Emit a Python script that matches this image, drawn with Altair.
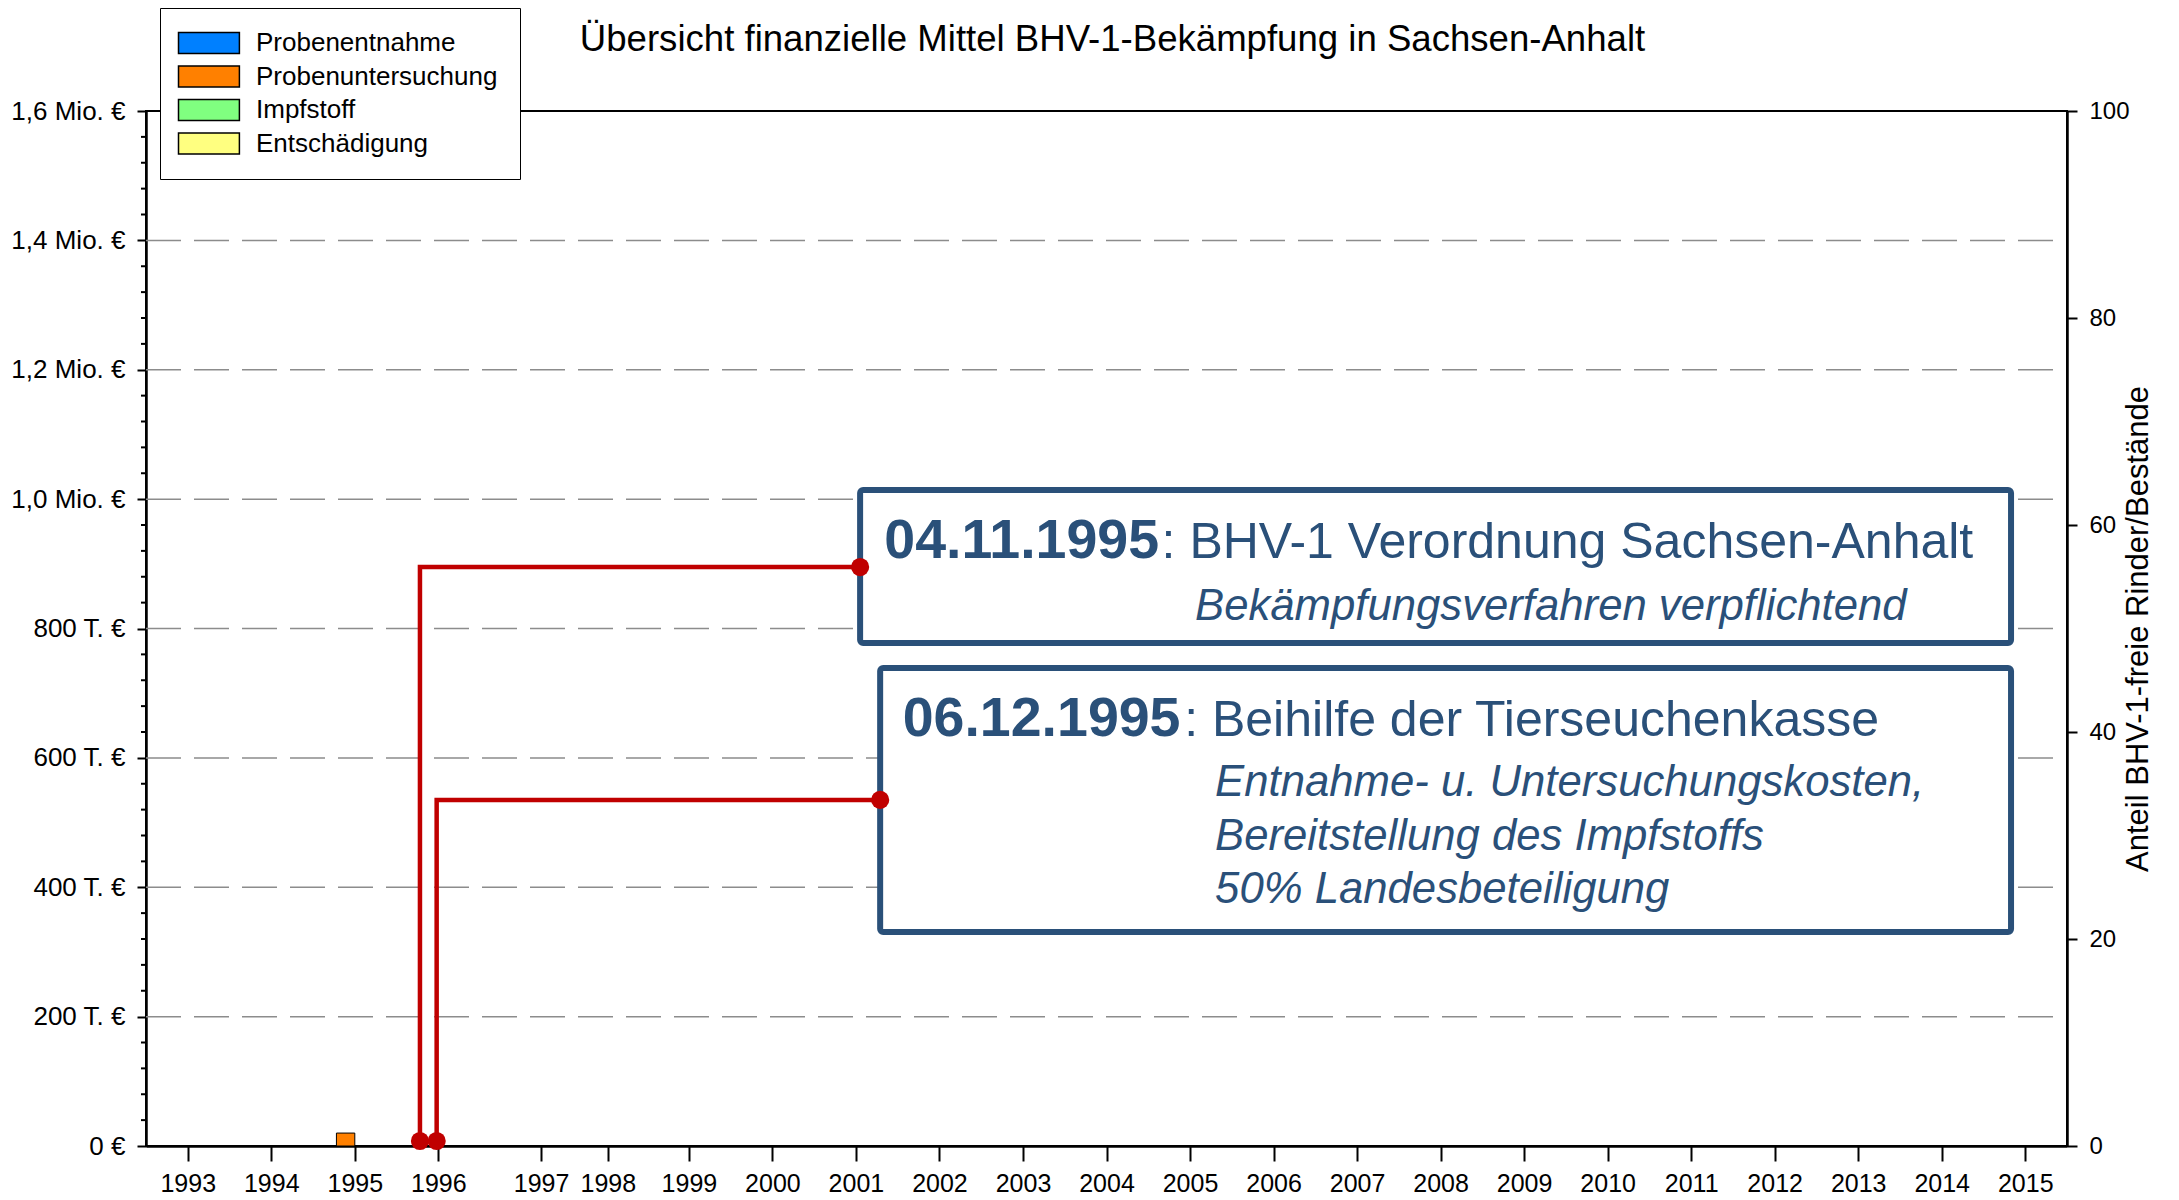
import altair as alt
import pandas as pd

# ---------------- data ----------------
categories = ["Probenentnahme", "Probenuntersuchung", "Impfstoff", "Entschädigung"]
cat_colors = ["#0080FF", "#FF8000", "#80FF80", "#FFFF80"]
bar_years = [1995, 1995, 1995, 1995]
bar_values = [0, 20000, 0, 0]
bar_span = 0.22  # bar drawn just before the year tick

# x tick positions as they appear on the axis (1997 / 1998 are shifted in the original)
tick_years = [1993, 1994, 1995, 1996, 1997.23, 1998.03] + list(range(1999, 2016))

y_major = [0, 200000, 400000, 600000, 800000, 1000000, 1200000, 1400000, 1600000]
y_minor = [v for v in range(0, 1600001, 40000) if v % 200000 != 0]
grid_values = [200000, 400000, 600000, 800000, 1000000, 1200000, 1400000]
right_ticks = [0, 20, 40, 60, 80, 100]

# events (connector lines + boxes)
event_x = [1995.78, 1995.98]
event_level = [895000, 535000]
dot_base = 7700
box_x0 = [2001.05, 2001.29]
box_x1 = [2014.83, 2014.83]
box_top = [1014000, 739000]
box_bottom = [777600, 330800]

bold_text = ["04.11.1995", "06.12.1995"]
bold_x = [2001.34, 2001.56]
bold_y = [909000, 633800]
reg_text = [": BHV-1 Verordnung Sachsen-Anhalt", ": Beihilfe der Tierseuchenkasse"]
reg_x = [2004.66, 2004.93]
ital_text = ["Bekämpfungsverfahren verpflichtend",
             "Entnahme- u. Untersuchungskosten,",
             "Bereitstellung des Impfstoffs",
             "50% Landesbeteiligung"]
ital_x = [2005.06, 2005.30, 2005.30, 2005.30]
ital_y = [813100, 541000, 457600, 375600]

TITLE = "Übersicht finanzielle Mittel BHV-1-Bekämpfung in Sachsen-Anhalt"
RIGHT_TITLE = "Anteil BHV-1-freie Rinder/Bestände"

BLUE = "#2A5079"
RED = "#C00000"
FONT = "Liberation Sans"
PLOT_W = 1921
PLOT_H = 1035

# ---------------- tables ----------------
df_bars = pd.DataFrame({"year": bar_years, "cat": categories, "value": bar_values,
                        "order": list(range(len(categories)))})
df_grid = pd.DataFrame({"v": grid_values})
df_minor = pd.DataFrame({"v": y_minor})
df_boxes = pd.DataFrame({"bx0": box_x0, "bx1": box_x1, "btop": box_top, "bbot": box_bottom})
line_rows = []
for i in range(len(event_x)):
    line_rows += [
        {"ev": i, "o": 0, "x": event_x[i], "y": dot_base},
        {"ev": i, "o": 1, "x": event_x[i], "y": event_level[i]},
        {"ev": i, "o": 2, "x": box_x0[i], "y": event_level[i]},
    ]
df_lines = pd.DataFrame(line_rows)
dot_rows = []
for i in range(len(event_x)):
    dot_rows += [{"x": event_x[i], "y": dot_base}, {"x": box_x0[i], "y": event_level[i]}]
df_dots = pd.DataFrame(dot_rows)
df_bold = pd.DataFrame({"x": bold_x, "y": bold_y, "t": bold_text})
df_reg = pd.DataFrame({"x": reg_x, "y": bold_y, "t": reg_text})
df_ital = pd.DataFrame({"x": ital_x, "y": ital_y, "t": ital_text})

# ---------------- scales / axes ----------------
x_scale = alt.Scale(domain=[1992.5, 2015.5], nice=False, zero=False)
y_scale = alt.Scale(domain=[0, 1600000], nice=False, zero=True)

x_axis = alt.Axis(values=tick_years, labelExpr="'' + round(datum.value)", title=None,
                  tickSize=15, tickWidth=2, tickColor="black", domainColor="black",
                  domainWidth=2.5, labelFontSize=25, labelPadding=10, labelColor="black",
                  grid=False, labelFlush=False, labelOverlap=False, labelFont=FONT)
y_axis = alt.Axis(values=y_major,
                  labelExpr="datum.value >= 1000000 ? replace(format(datum.value/1000000, '.1f'), '.', ',') + ' Mio. €' : (datum.value == 0 ? '0 €' : format(datum.value/1000, 'd') + ' T. €')",
                  title=None, tickSize=9, tickWidth=2, tickColor="black", domainColor="black",
                  domainWidth=2.5, labelFontSize=26, labelPadding=12, labelColor="black",
                  grid=False, labelFont=FONT, labelOverlap=False)

legend = alt.Legend(orient="none", legendX=14, legendY=-103, title=None,
                    fillColor="white", strokeColor="black", padding=22,
                    symbolType="M-1,-1H4.8V1H-1Z", symbolSize=441, symbolOffset=-6,
                    symbolStrokeColor="black", symbolStrokeWidth=1.5, symbolOpacity=1,
                    labelFontSize=26, labelFont=FONT, labelColor="black", labelLimit=500,
                    labelExpr="datum.label + '\u2003'",
                    labelOffset=54, rowPadding=5.5)

X = lambda f: alt.X(f, scale=x_scale, axis=x_axis)
Y = lambda f: alt.Y(f, scale=y_scale, axis=y_axis)

grid = alt.Chart(df_grid).mark_rule(color="#8c8c8c", strokeWidth=1.5, strokeDash=[35, 13]).encode(
    y=Y("v:Q"), x=alt.value(0), x2=alt.value(PLOT_W - 12))

minor = alt.Chart(df_minor).mark_rule(color="black", strokeWidth=2).encode(
    y=Y("v:Q"), x=alt.value(-5), x2=alt.value(0))

bars = alt.Chart(df_bars).transform_calculate(
    x0=f"datum.year - {bar_span}"
).transform_stack(
    stack="value", groupby=["year"], as_=["v0", "v1"], sort=[alt.SortField("order")]
).transform_filter("datum.value > 0").mark_rect(stroke="black", strokeWidth=1).encode(
    x=X("x0:Q"), x2="year:Q", y=Y("v0:Q"), y2="v1:Q",
    color=alt.Color("cat:N", scale=alt.Scale(domain=categories, range=cat_colors), legend=legend))

boxes = alt.Chart(df_boxes).mark_rect(fill="white", stroke=BLUE, strokeWidth=6, cornerRadius=3).encode(
    x=X("bx0:Q"), x2="bx1:Q", y=Y("btop:Q"), y2="bbot:Q")

lines = alt.Chart(df_lines).mark_line(color=RED, strokeWidth=4.5).encode(
    x=X("x:Q"), y=Y("y:Q"), detail="ev:N", order="o:Q")

dots = alt.Chart(df_dots).mark_circle(color=RED, opacity=1, size=330).encode(
    x=X("x:Q"), y=Y("y:Q"))

t_bold = alt.Chart(df_bold).mark_text(font=FONT, fontSize=55.5, fontWeight="bold", color=BLUE,
                                      align="left", baseline="alphabetic").encode(
    x=X("x:Q"), y=Y("y:Q"), text="t:N")
t_reg = alt.Chart(df_reg).mark_text(font=FONT, fontSize=50, color=BLUE,
                                    align="left", baseline="alphabetic").encode(
    x=X("x:Q"), y=Y("y:Q"), text="t:N")
t_ital = alt.Chart(df_ital).mark_text(font=FONT, fontSize=43.7, fontStyle="italic", color=BLUE,
                                      align="left", baseline="alphabetic").encode(
    x=X("x:Q"), y=Y("y:Q"), text="t:N")

inner = alt.layer(grid, minor, bars, boxes, lines, dots, t_bold, t_reg, t_ital)

right = alt.Chart(pd.DataFrame({"p": [0, 100]})).mark_point(opacity=0).encode(
    y=alt.Y("p:Q", scale=alt.Scale(domain=[0, 100], nice=False),
            axis=alt.Axis(orient="right", values=right_ticks, title=RIGHT_TITLE,
                          tickSize=10, tickWidth=2, tickColor="black", domainColor="black",
                          domainWidth=2.5, labelFontSize=24, labelPadding=12,
                          labelColor="black", labelFont=FONT, grid=False,
                          titleFont=FONT, titleFontSize=31, titleFontWeight="normal",
                          titleColor="black", titleAngle=270, titlePadding=25)))

chart = alt.layer(inner, right).resolve_scale(y="independent").properties(
    width=PLOT_W, height=PLOT_H,
    padding={"left": 138, "top": 103, "right": 104, "bottom": 53},
    autosize=alt.AutoSizeParams(type="none"),
    title=alt.TitleParams(TITLE, font=FONT, fontSize=36.6, fontWeight="normal", color="black",
                          anchor="middle", frame="group", offset=-80, baseline="alphabetic", dx=6),
).configure_view(stroke="black", strokeWidth=2)

chart.save("out.html", embed_options={"renderer": "svg", "actions": False})
